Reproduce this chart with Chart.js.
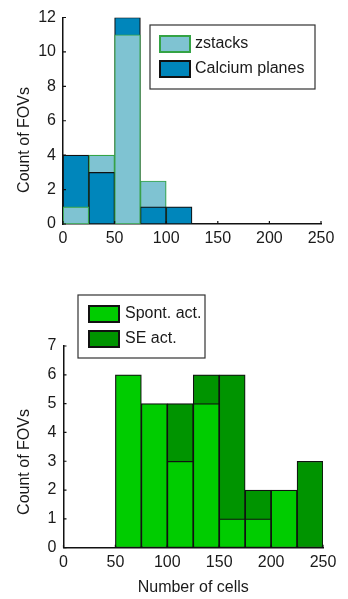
<!DOCTYPE html>
<html>
<head>
<meta charset="utf-8">
<script src="https://cdn.jsdelivr.net/npm/chart.js@4.4.0/dist/chart.umd.min.js"></script>
<style>
  html, body { margin: 0; padding: 0; background: #fff; }
  body { width: 348px; height: 599px; overflow: hidden; position: relative; }
  canvas { position: absolute; left: 0; }
  #cellsHist { top: 0; }
  #actHist { top: 260px; }
</style>
</head>
<body>
<canvas id="cellsHist" width="348" height="260"></canvas>
<canvas id="actHist" width="348" height="339"></canvas>
<script>
// histogram bins (number of cells), 25 wide
const binStarts = [0, 25, 50, 75, 100, 125, 150, 175, 200, 225];
const binWidth = 25;

// top panel: FOV counts per bin
const zstacks       = [1, 4, 11, 2.5, 0, 0, 0, 0, 0, 0];
const calciumPlanes = [4, 3, 12, 1, 1, 0, 0, 0, 0, 0];

// bottom panel: FOV counts per bin
const spontAct = [0, 0, 6, 5, 3, 5, 1, 1, 2, 0];
const seAct    = [0, 0, 0, 0, 5, 6, 6, 2, 0, 3];

Chart.defaults.font.family = '"Liberation Sans", Arial, sans-serif';
Chart.defaults.font.size = 16;
Chart.defaults.color = '#1a1a1a';

// two overlaid histograms: in each bin the shorter bar is drawn in front
function overlaySets(first, second) {
  const pts = (vals, keep) => vals.map((v, i) => ({
    x: binStarts[i] + binWidth / 2,
    y: (v > 0 && keep(v, i)) ? v : null
  }));
  const look = s => ({
    label: s.label,
    backgroundColor: s.fill,
    borderColor: s.edge,
    borderWidth: 1.2,
    borderSkipped: false,
    grouped: false,
    barPercentage: 1,
    categoryPercentage: 1
  });
  const pairs = [[first, second.values], [second, first.values]];
  const front = pairs.map(([s, o]) => ({ ...look(s), data: pts(s.values, (v, i) => v < o[i]) }));
  const back = pairs.map(([s, o]) => ({ ...look(s), data: pts(s.values, (v, i) => v >= o[i]) }));
  // dataset 0 is painted last
  return front.concat(back);
}

// MATLAB-like decorations: inward ticks, y title, boxed legend
const decor = {
  id: 'decor',
  afterDraw(chart, args, opts) {
    const { ctx, chartArea: a, scales: { x, y } } = chart;
    ctx.save();

    ctx.strokeStyle = '#111';
    ctx.lineWidth = 1.2;
    ctx.beginPath();
    x.ticks.forEach(t => {
      const px = x.getPixelForValue(t.value);
      ctx.moveTo(px, a.bottom);
      ctx.lineTo(px, a.bottom - 3);
    });
    y.ticks.forEach(t => {
      const py = y.getPixelForValue(t.value);
      ctx.moveTo(a.left, py);
      ctx.lineTo(a.left + 3, py);
    });
    ctx.stroke();

    // y axis title
    ctx.save();
    ctx.translate(opts.yTitle.x, opts.yTitle.y);
    ctx.rotate(-Math.PI / 2);
    ctx.font = '16px "Liberation Sans", Arial, sans-serif';
    ctx.fillStyle = '#1a1a1a';
    ctx.textAlign = 'center';
    ctx.textBaseline = 'middle';
    ctx.fillText(opts.yTitle.text, 0, 0);
    ctx.restore();

    // legend
    const L = opts.legend;
    ctx.fillStyle = '#fff';
    ctx.fillRect(L.x, L.y, L.w, L.h);
    ctx.strokeStyle = '#333';
    ctx.lineWidth = 1.2;
    ctx.strokeRect(L.x, L.y, L.w, L.h);
    L.items.forEach((it, i) => {
      const sy = L.swatchY + i * L.rowH;
      ctx.fillStyle = it.fill;
      ctx.fillRect(L.swatchX, sy, 32, 18);
      ctx.strokeStyle = it.edge;
      ctx.lineWidth = 2;
      ctx.strokeRect(L.swatchX + 1, sy + 1, 30, 16);
      ctx.fillStyle = '#1a1a1a';
      ctx.font = '16px "Liberation Sans", Arial, sans-serif';
      ctx.textAlign = 'left';
      ctx.textBaseline = 'middle';
      ctx.fillText(it.label, L.textX, sy + 9);
    });

    ctx.restore();
  }
};

function histOptions(yMax, yStep, xHeight, pad, xTitle, decorOpts) {
  return {
    responsive: false,
    animation: false,
    layout: { padding: pad },
    plugins: {
      legend: { display: false },
      tooltip: { enabled: false },
      decor: decorOpts
    },
    scales: {
      x: {
        type: 'linear',
        min: 0,
        max: 250,
        offset: false,
        grid: { display: false, drawTicks: false },
        border: { display: true, color: '#111', width: 1.5 },
        ticks: { stepSize: 50, padding: 5, maxRotation: 0 },
        title: xTitle
          ? { display: true, text: xTitle, padding: { top: 0, bottom: 1.5 } }
          : { display: false },
        afterFit: s => { s.height = xHeight; }
      },
      y: {
        min: 0,
        max: yMax,
        grid: { display: false, drawTicks: false },
        border: { display: true, color: '#111', width: 1.5 },
        ticks: { stepSize: yStep, padding: 7 },
        afterFit: s => { s.width = 63; }
      }
    }
  };
}

const zSeries = { label: 'zstacks', values: zstacks, fill: '#7fc3d2', edge: '#34a345' };
const caSeries = { label: 'Calcium planes', values: calciumPlanes, fill: '#0086bb', edge: '#111' };

new Chart(document.getElementById('cellsHist'), {
  type: 'bar',
  data: { datasets: overlaySets(zSeries, caSeries) },
  options: histOptions(12, 2, 36, { top: 17.5, right: 27, left: 0, bottom: 0 }, null, {
    yTitle: { text: 'Count of FOVs', x: 25, y: 140 },
    legend: {
      x: 150, y: 25, w: 165, h: 64,
      swatchX: 159, swatchY: 35, rowH: 25, textX: 195,
      items: [zSeries, caSeries]
    }
  }),
  plugins: [decor]
});

const spSeries = { label: 'Spont. act.', values: spontAct, fill: '#00cc00', edge: '#111' };
const seSeries = { label: 'SE act.', values: seAct, fill: '#009400', edge: '#111' };

new Chart(document.getElementById('actHist'), {
  type: 'bar',
  data: { datasets: overlaySets(spSeries, seSeries) },
  options: histOptions(7, 1, 51.3, { top: 86, right: 25, left: 0.5, bottom: 0 }, 'Number of cells', {
    yTitle: { text: 'Count of FOVs', x: 25, y: 202 },
    legend: {
      x: 78, y: 35, w: 127, h: 63,
      swatchX: 88, swatchY: 45, rowH: 25, textX: 125,
      items: [spSeries, seSeries]
    }
  }),
  plugins: [decor]
});
</script>
</body>
</html>
